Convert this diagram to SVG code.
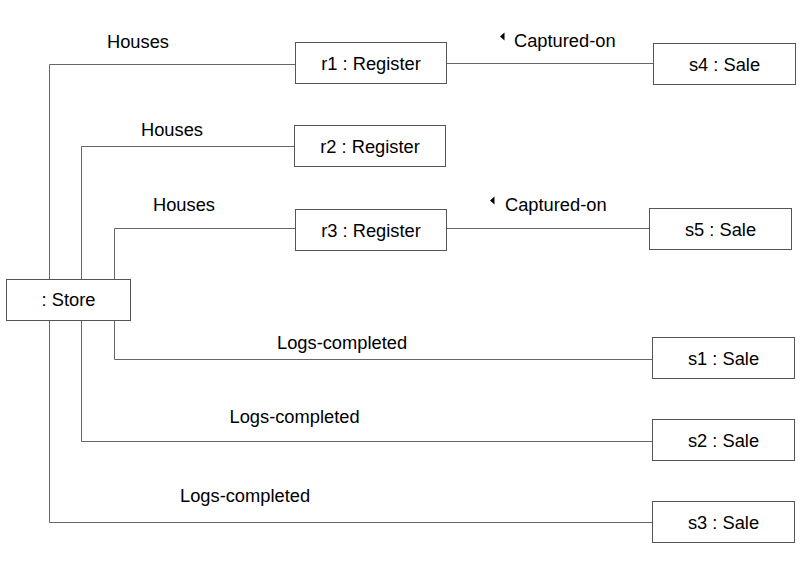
<svg xmlns="http://www.w3.org/2000/svg" width="806" height="565" viewBox="0 0 806 565">
<style>
.box{fill:#fff;stroke:#555;stroke-width:1}
.ln{fill:none;stroke:#666;stroke-width:1}
text{font-family:"Liberation Sans",Arial,sans-serif;font-size:18.3px;fill:#000}
.c{text-anchor:middle}
.tri{fill:#000}
</style>
<rect width="806" height="565" fill="#fff"/>
<g id="connectors">
<path class="ln" d="M295 64.5H49.5V279"/>
<path class="ln" d="M294 146.5H81.5V279"/>
<path class="ln" d="M295 228.5H114.5V279"/>
<path class="ln" d="M446 63.5H653"/>
<path class="ln" d="M446 228.5H649"/>
<path class="ln" d="M114.5 321V359.5H652"/>
<path class="ln" d="M81.5 321V441.5H652"/>
<path class="ln" d="M49.5 321V522.5H652"/>
<text x="107" y="48">Houses</text>
<text x="141" y="136">Houses</text>
<text x="153" y="211">Houses</text>
<polygon class="tri" points="500,36.5 504.5,32.5 504.5,40.5"/>
<text x="514" y="47">Captured-on</text>
<polygon class="tri" points="490,200.5 494.5,196.5 494.5,204.5"/>
<text x="505" y="211">Captured-on</text>
<text x="277" y="349">Logs-completed</text>
<text x="229.5" y="423">Logs-completed</text>
<text x="180" y="502">Logs-completed</text>
</g>
<g id="store"><rect class="box" x="6.5" y="279.5" width="124" height="41"/><text class="c" x="68.5" y="306">: Store</text></g>
<g id="r1"><rect class="box" x="295.5" y="42.5" width="151" height="41"/><text class="c" x="371" y="69.5">r1 : Register</text></g>
<g id="r2"><rect class="box" x="294.5" y="125.5" width="151" height="41"/><text class="c" x="370" y="152.5">r2 : Register</text></g>
<g id="r3"><rect class="box" x="295.5" y="209.5" width="151" height="41"/><text class="c" x="371" y="236.5">r3 : Register</text></g>
<g id="s4"><rect class="box" x="653.5" y="43.5" width="142" height="41"/><text class="c" x="724.5" y="70.5">s4 : Sale</text></g>
<g id="s5"><rect class="box" x="649.5" y="208.5" width="142" height="41"/><text class="c" x="720.5" y="235.5">s5 : Sale</text></g>
<g id="s1"><rect class="box" x="652.5" y="337.5" width="142" height="41"/><text class="c" x="723.5" y="364.5">s1 : Sale</text></g>
<g id="s2"><rect class="box" x="652.5" y="419.5" width="142" height="41"/><text class="c" x="723.5" y="446.5">s2 : Sale</text></g>
<g id="s3"><rect class="box" x="652.5" y="501.5" width="142" height="41"/><text class="c" x="723.5" y="528.5">s3 : Sale</text></g>
</svg>
